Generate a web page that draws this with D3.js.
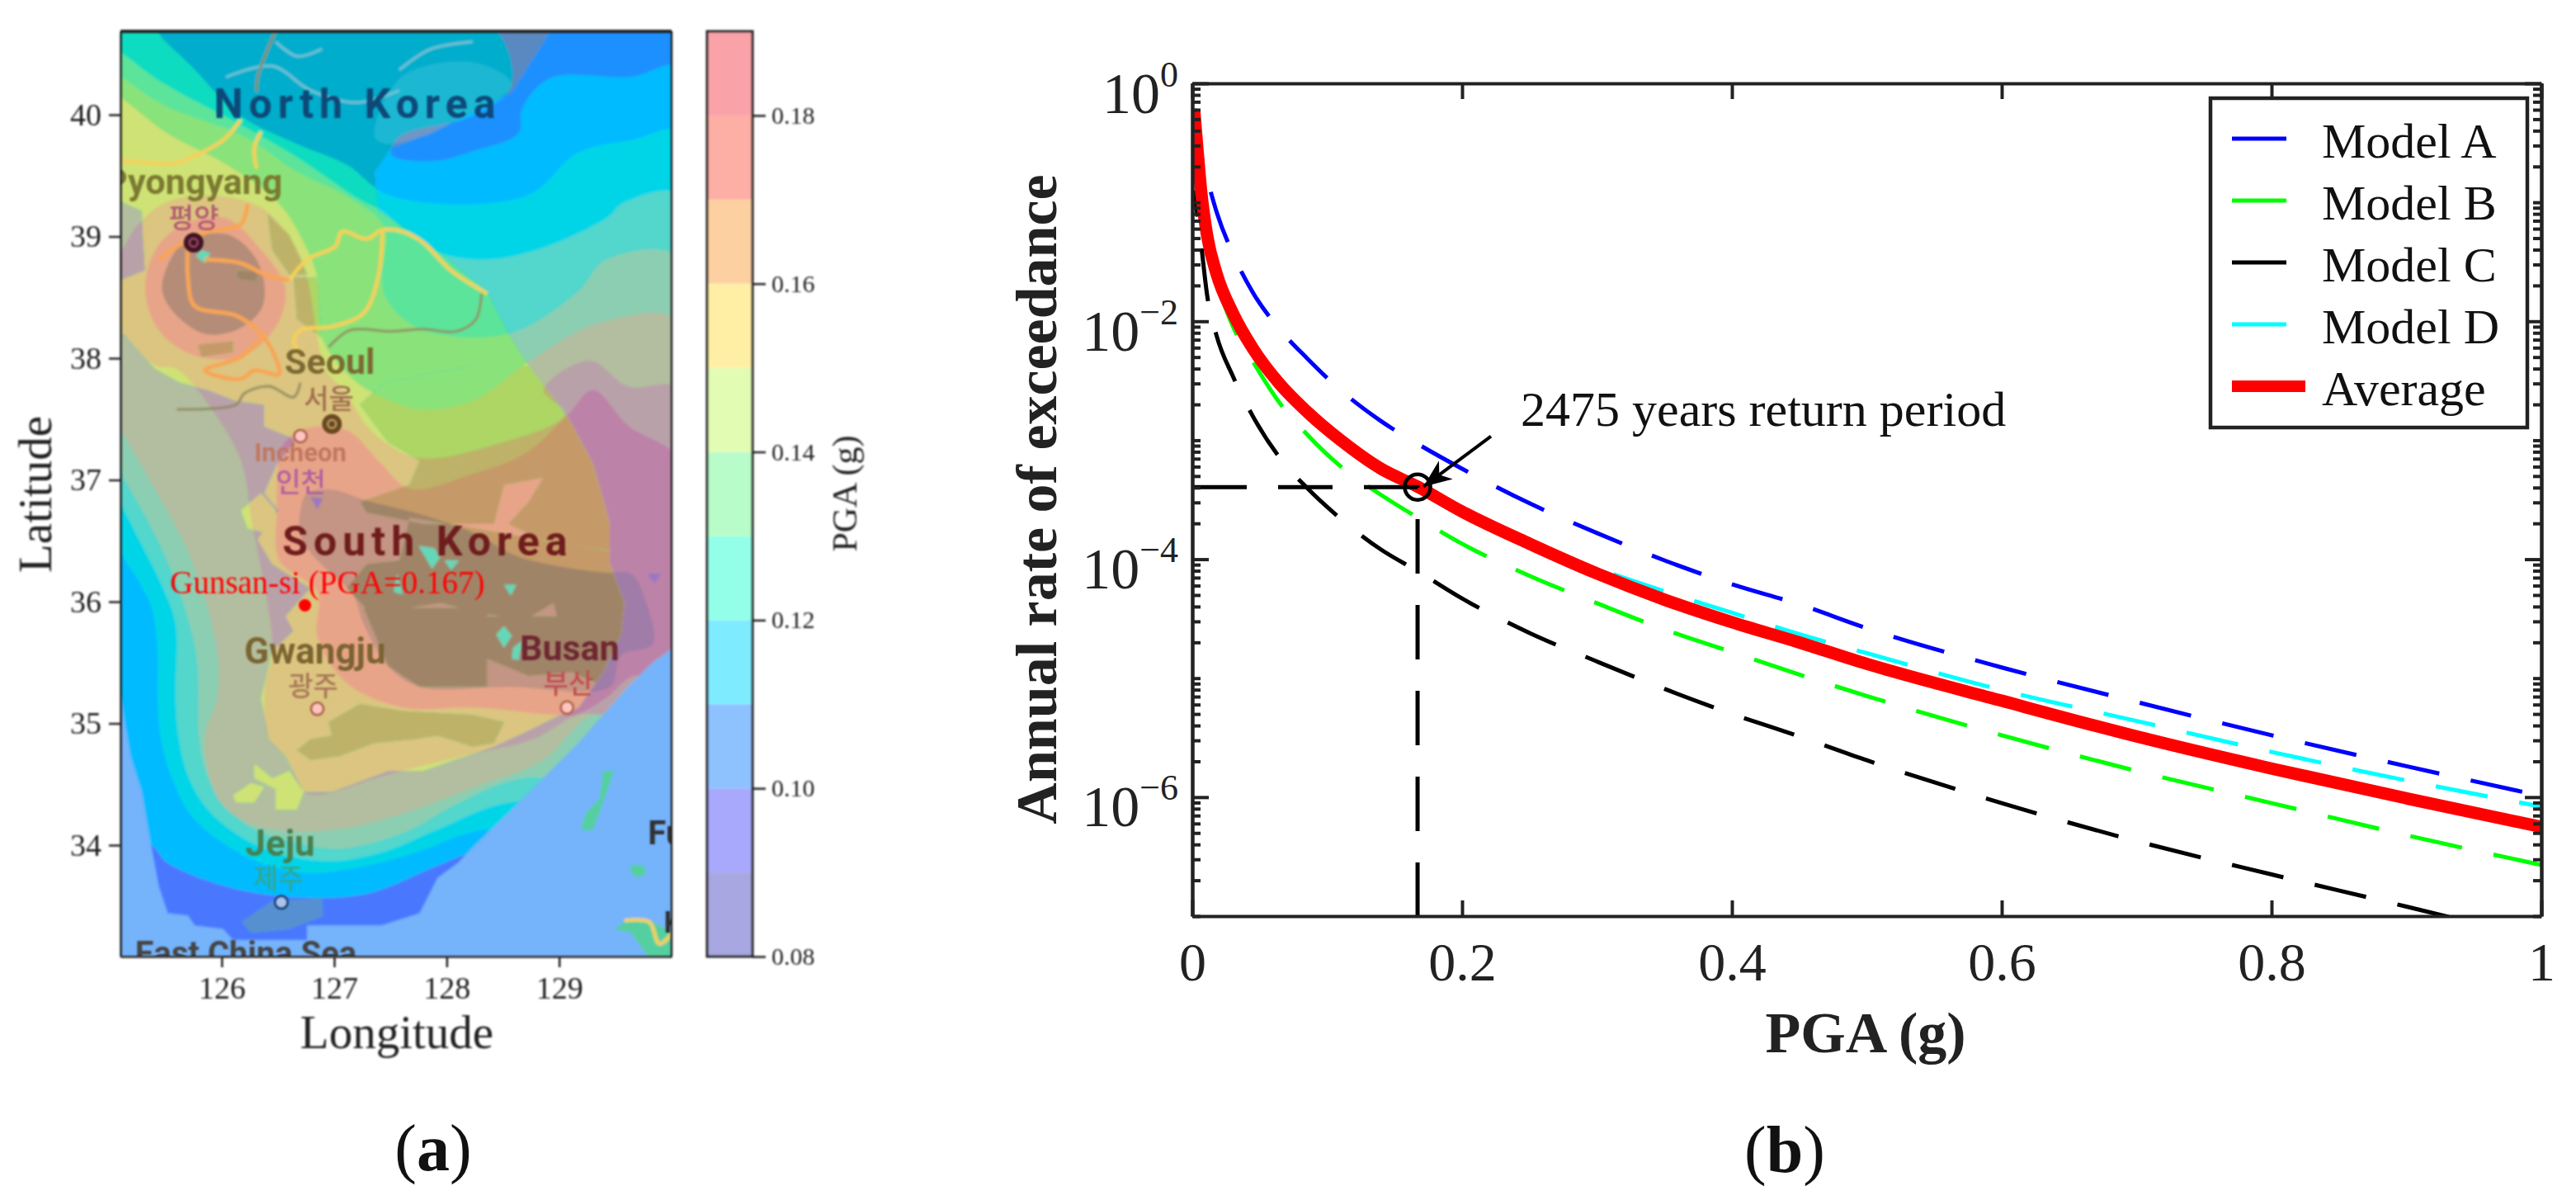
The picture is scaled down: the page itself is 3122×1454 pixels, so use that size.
<!DOCTYPE html>
<html>
<head>
<meta charset="utf-8">
<script src="https://cdn.jsdelivr.net/npm/d3@7/dist/d3.min.js"></script>
<style>
  body { margin: 0; background: #fff; }
  text { font-family: "Liberation Serif", serif; }
  .map-label { font-family: Roboto, sans-serif; font-weight: 700; }
  .map-hangul { font-family: "Noto Sans CJK KR", sans-serif; font-weight: 500; }
</style>
</head>
<body>
<svg id="fig" width="3122" height="1454"></svg>
<script>
// ---------- (b) hazard curves, values are log10 of the annual rate
const pgaGrid = [0.0015, 0.004, 0.0065, 0.011, 0.018, 0.03, 0.045, 0.065, 0.085, 0.11, 0.14, 0.167, 0.2, 0.25, 0.3, 0.35, 0.4, 0.45, 0.5, 0.6, 0.7, 0.8, 0.9, 1];
const modelA = [-0.15, -0.45, -0.6, -0.8, -1.08, -1.43, -1.76, -2.07, -2.31, -2.58, -2.84, -3.03, -3.24, -3.53, -3.78, -4.01, -4.21, -4.38, -4.58, -4.91, -5.2, -5.48, -5.74, -5.99];
const modelB = [-0.15, -0.62, -0.95, -1.33, -1.66, -2.04, -2.34, -2.69, -2.95, -3.22, -3.46, -3.65, -3.87, -4.14, -4.37, -4.59, -4.78, -4.97, -5.15, -5.48, -5.78, -6.05, -6.32, -6.57];
const modelC = [-0.9, -1.13, -1.35, -1.78, -2.12, -2.46, -2.8, -3.15, -3.4, -3.66, -3.92, -4.1, -4.33, -4.62, -4.86, -5.09, -5.3, -5.49, -5.69, -6.05, -6.37, -6.65, -6.92, -7.2];
const modelD = [-0.15, -0.6, -0.93, -1.3, -1.62, -2, -2.28, -2.57, -2.79, -3.03, -3.27, -3.42, -3.62, -3.88, -4.08, -4.27, -4.45, -4.63, -4.79, -5.1, -5.36, -5.62, -5.86, -6.08];
const average = [-0.24, -0.58, -0.9, -1.28, -1.6, -1.93, -2.23, -2.53, -2.76, -3, -3.24, -3.39, -3.6, -3.87, -4.12, -4.34, -4.53, -4.7, -4.88, -5.19, -5.49, -5.76, -6.01, -6.25];
// where one dash of each model starts, to line the dashes up with the picture
const dashStartPga = [0.641, 0.597, 0.589, 0.614];
const dashStartLog = [-5.035, -5.47, -5.99, -5.13];

const seriesNames = ["Model A", "Model B", "Model C", "Model D", "Average"];
const seriesColors = ["#0000ff", "#00ff00", "#000000", "#00ffff", "#ff0000"];
const pgaTicks = [0, 0.2, 0.4, 0.6, 0.8, 1];
const rateMajor = [1, 1e-2, 1e-4, 1e-6];
const refPga = 0.167;
const refRate = 4.04e-4;
const arrowPga = [0.2214, 0.1713];
const arrowRate = [1.08e-3, 4.07e-4];

// ---------- (a) contour bands in [lon, lat]
const lonTicks = [126, 127, 128, 129];
const latTicks = [34, 35, 36, 37, 38, 39, 40];
const pgaBarTicks = [0.08, 0.1, 0.12, 0.14, 0.16, 0.18];
const barLevels = [0.08, 0.09, 0.1, 0.11, 0.12, 0.13, 0.14, 0.15, 0.16, 0.17, 0.18, 0.19];
const barColors = ["#a8a7e1", "#a8a9fc", "#8ec2ff", "#7febff", "#94ffe9", "#b8fdc9", "#e2fcb3", "#feefa4", "#fdd0a2", "#fdaea5", "#f9a3a9"];

const dataExtent = [[125, 40.8], [130.1, 40.8], [130.1, 35.62], [130.01, 35.62], [129.83, 35.5], [129.61, 35.3], [129.17, 34.84], [128.64, 34.35], [128.23, 33.98], [128.11, 33.86], [127.92, 33.73], [127.76, 33.44], [127.42, 33.34], [126.76, 33.34], [126.76, 33.22], [126.1, 33.22], [126.01, 33.31], [125.76, 33.34], [125.7, 33.42], [125.52, 33.44], [125.44, 33.66], [125.37, 34], [125.29, 34.44], [125.19, 34.73], [125.1, 35.22], [125, 35.22]];
const bandNorth = [[128.33, 40.8], [130.1, 40.8], [130.1, 40.38], [129.64, 40.31], [128.92, 40.3], [128.67, 40.05], [128.64, 39.85], [128.23, 39.7], [127.89, 39.62], [127.51, 39.67], [127.58, 39.82], [128.23, 39.99], [128.58, 40.25]];
const bandDeep = [[125, 40.8], [128.33, 40.8], [128.58, 40.25], [128.23, 39.99], [127.58, 39.82], [127.51, 39.67], [127.89, 39.62], [128.23, 39.7], [128.64, 39.85], [128.67, 40.05], [128.92, 40.3], [129.64, 40.31], [130.1, 40.38], [130.1, 33.93], [128.23, 33.93], [127.92, 33.83], [127.29, 33.6], [126.67, 33.57], [126.04, 33.66], [125.51, 33.86], [125.37, 34], [125, 34]];
const bandCyan = [[125.43, 40.8], [125.43, 40.69], [125.73, 40.4], [126.17, 39.99], [126.67, 39.76], [127.11, 39.59], [127.51, 39.33], [128.7, 39.33], [129.17, 39.69], [129.64, 39.79], [130.1, 39.85], [130.1, 34.12], [128.3, 34.12], [127.76, 33.95], [127.29, 33.83], [126.79, 33.77], [126.42, 33.83], [126.04, 34], [125.74, 34.23], [125.57, 34.52], [125.46, 34.87], [125.43, 35.21], [125.43, 35.59], [125.38, 35.94], [125.26, 36.17], [125.1, 36.4], [125, 36.6], [125, 40.8]];
const bandTeal = [[125, 40.55], [125.1, 40.51], [125.44, 40.28], [126.2, 39.9], [126.67, 39.65], [127.23, 39.3], [127.42, 39.21], [127.86, 38.89], [128.33, 38.81], [128.8, 38.89], [129.42, 39.15], [129.58, 39.28], [130.1, 39.33], [130.1, 34.35], [128.55, 34.35], [127.92, 34.13], [127.45, 33.95], [126.98, 33.87], [126.51, 33.93], [126.17, 34.07], [125.88, 34.29], [125.71, 34.55], [125.62, 34.87], [125.59, 35.21], [125.59, 35.82], [125.48, 36.11], [125.26, 36.52], [125.1, 36.81], [125, 37]];
const bandSeaGreen = [[125, 40.35], [125.1, 40.31], [125.48, 40.08], [126.2, 39.82], [126.67, 39.53], [127.11, 39.33], [127.45, 39.07], [127.42, 38.66], [127.48, 38.46], [127.79, 38.23], [128.55, 38.2], [129.17, 38.55], [129.42, 38.81], [130.1, 38.81], [130.1, 34.55], [128.67, 34.55], [128.11, 34.35], [127.61, 34.1], [127.04, 33.97], [126.67, 34.02], [126.29, 34.13], [126.01, 34.35], [125.87, 34.58], [125.8, 34.87], [125.77, 35.59], [125.51, 36.35], [125.1, 37.06], [125, 37.2]];
const bandGrey = [[125, 40.18], [125.1, 40.14], [125.51, 39.85], [126.04, 39.59], [126.51, 39.27], [126.76, 38.89], [126.85, 38.66], [126.89, 38.17], [127.14, 37.85], [127.36, 37.71], [127.76, 37.58], [128.23, 37.65], [128.73, 37.97], [129.36, 38.29], [130.1, 38.29], [130.1, 35.07], [129.3, 35.07], [128.86, 34.7], [128.23, 34.47], [127.61, 34.26], [127.04, 34.13], [126.51, 34.12], [126.17, 34.21], [125.95, 34.41], [125.85, 34.87], [125.96, 35.21], [125.96, 35.59], [125.73, 36.35], [125.41, 36.92], [125.1, 37.42], [125, 37.6]];
const bandRose = [[130.1, 37.74], [129.61, 37.77], [129.27, 37.98], [128.86, 37.74], [129.05, 37.54], [128.39, 37.28], [127.76, 37.18], [127.45, 37.31], [127.26, 37.48], [127.11, 37.71], [126.92, 37.91], [126.85, 38.17], [126.76, 38.66], [126.64, 38.95], [126.35, 39.24], [125.88, 39.34], [125.48, 39.27], [125.23, 39.07], [125.1, 38.89], [125, 38.89], [125, 38.2], [125.1, 38.2], [125.41, 37.94], [125.6, 37.91], [125.88, 37.62], [126.17, 37.16], [126.27, 36.64], [126.4, 36.02], [126.45, 35.59], [126.38, 35.27], [126.42, 34.87], [126.57, 34.73], [126.73, 34.44], [126.85, 34.41], [127.48, 34.58], [128.23, 34.75], [128.77, 34.87], [129.17, 35.07], [129.39, 35.07], [130.1, 35.07]];
const bandMauve = [[130.1, 37.13], [129.61, 37.45], [129.3, 37.74], [129.08, 37.54], [128.7, 37.22], [128.23, 37.05], [127.67, 36.93], [127.42, 37.13], [127.11, 37.41], [126.73, 37.42], [126.54, 37.28], [126.49, 36.93], [126.49, 36.75], [126.51, 36.34], [126.85, 36.08], [126.85, 35.71], [127.11, 35.33], [127.61, 35.13], [128.23, 35.13], [128.95, 35.07], [129.14, 35.07], [129.42, 35.21], [129.67, 35.39], [130.1, 35.3]];
const ringMauve = [[125.32, 38.55], [125.41, 38.89], [125.66, 39.1], [126.04, 39.15], [126.35, 38.89], [126.56, 38.6], [126.54, 38.37], [126.38, 38.14], [126.13, 38], [125.73, 38.03], [125.44, 38.23]];
const bandViolet = [[126.7, 36.75], [126.76, 36.89], [126.98, 36.92], [127.29, 36.83], [127.76, 36.72], [128.23, 36.57], [128.64, 36.37], [129.39, 36.24], [129.64, 36.23], [129.77, 36], [129.83, 35.65], [129.55, 35.56], [129.45, 35.3], [128.55, 35.3], [127.76, 35.3], [127.48, 35.47], [127.26, 35.82], [127.17, 36.05], [126.82, 36.37], [126.7, 36.54]];
const ringViolet = [[125.48, 38.66], [125.66, 38.95], [126.04, 39.02], [126.29, 38.84], [126.38, 38.6], [126.35, 38.4], [126.13, 38.23], [125.85, 38.2], [125.6, 38.35], [125.48, 38.52]];

const bandsInOrder = [bandDeep, bandCyan, bandTeal, bandSeaGreen, bandGrey, bandRose, bandMauve, ringMauve, bandViolet, ringViolet];
const seaBand = ["#00bbff", "#00d5e8", "#53d6cc", "#8cceb2", "#b2be9f", "#b9a1a9", "#bd82a8", "#bd82a8", "#a07ba8", "#a07ba8"];
const landBand = ["#00adcc", "#10dcc0", "#5ce49a", "#8ae27a", "#cfe274", "#dcc580", "#e8a488", "#e8a488", "#c49484", "#b48c78"];
const forestBand = ["#00adcc", "#10dcc0", "#5ce49a", "#8ae27a", "#add665", "#bdb267", "#c69a68", "#c69a68", "#a08468", "#a08468"];

const landMain = [[125, 40.8], [128.92, 40.8], [128.92, 40.69], [128.8, 40.51], [128.58, 40.19], [128.23, 40.02], [127.86, 39.85], [127.51, 39.73], [127.36, 39.53], [127.39, 39.21], [127.79, 38.98], [128.36, 38.55], [128.55, 38.2], [128.73, 37.94], [129.08, 37.51], [129.3, 37.13], [129.45, 36.64], [129.45, 36.31], [129.58, 35.99], [129.55, 35.73], [129.39, 35.42], [129.17, 35.13], [128.98, 35.06], [128.7, 34.93], [128.42, 34.81], [127.79, 34.61], [127.48, 34.61], [126.98, 34.44], [126.73, 34.44], [126.57, 34.73], [126.42, 34.87], [126.35, 35.21], [126.45, 35.59], [126.64, 35.76], [126.57, 35.88], [126.79, 36.11], [126.45, 36.31], [126.32, 36.51], [126.51, 36.75], [126.38, 36.89], [126.49, 37.12], [126.67, 37.33], [126.38, 37.44], [126.38, 37.62], [126.13, 37.65], [125.88, 37.74], [125.63, 37.8], [125.41, 37.91], [125.13, 38.2], [125, 38.2], [125, 38.6], [125.32, 38.72], [125.29, 39.21], [125, 39.33]];
const islands = [
  [[126.1, 34.41], [126.26, 34.51], [126.38, 34.48], [126.29, 34.35], [126.13, 34.35]],
  [[126.29, 34.67], [126.45, 34.55], [126.6, 34.61], [126.73, 34.44], [126.67, 34.29], [126.48, 34.29], [126.48, 34.46], [126.29, 34.55]],
  [[126.17, 36.75], [126.35, 36.89], [126.48, 36.75], [126.49, 36.55], [126.23, 36.6]],
  [[129.39, 34.61], [129.49, 34.61], [129.39, 34.35], [129.3, 34.12], [129.19, 34.13], [129.24, 34.27], [129.36, 34.38]],
  [[129.63, 33.83], [129.74, 33.84], [129.78, 33.77], [129.7, 33.73], [129.64, 33.77]],
  [[126.18, 33.37], [126.45, 33.54], [126.89, 33.56], [126.9, 33.42], [126.6, 33.31], [126.26, 33.28]],
  [[129.49, 33.31], [129.61, 33.39], [129.83, 33.37], [130.02, 33.28], [130.02, 33.07], [129.8, 33.07], [129.64, 33.28]]
];
const forests = [
  [[127.23, 37.62], [127.48, 37.31], [127.76, 37.16], [127.67, 36.96], [127.23, 36.82], [127.29, 36.73], [127.79, 36.64], [128.42, 36.64], [128.51, 36.96], [128.86, 37.02], [128.73, 36.82], [128.55, 36.64], [128.86, 36.5], [129.55, 36.41], [129.55, 37.22], [128.86, 37.94], [128.23, 37.94], [127.45, 37.8]],
  [[127.67, 36.69], [129.55, 36.4], [129.64, 35.99], [129.42, 35.3], [129.11, 35.42], [128.73, 35.39], [128.36, 35.53], [128.36, 35.88], [128.98, 35.88], [128.95, 35.99], [128.7, 35.85], [128.26, 35.91], [127.95, 35.99], [127.61, 35.94], [127.29, 35.94], [127.11, 36.11], [127.29, 36.31], [127.58, 36.34]],
  [[127.26, 35.95], [128.36, 35.95], [128.36, 35.3], [127.76, 35.3], [127.48, 35.47]],
  [[126.95, 35.01], [127.23, 35.16], [127.61, 35.1], [128.23, 35.07], [128.51, 35.01], [128.42, 34.84], [128.23, 34.81], [127.92, 34.9], [127.7, 34.87], [127.36, 34.84], [127.04, 34.73], [126.79, 34.7], [126.67, 34.78], [126.79, 34.87], [126.98, 34.9]],
  [[126.41, 39.18], [126.6, 39.01], [126.76, 38.69], [126.6, 38.69], [126.45, 38.89]],
  [[126.64, 38.66], [126.85, 38.66], [126.89, 38.17], [126.67, 38.32]],
  [[126.13, 38.72], [126.32, 38.72], [126.31, 38.63], [126.15, 38.65]],
  [[125.79, 38.11], [126.1, 38.14], [126.1, 38.05], [125.82, 38.01]]
];
const paleCoast = [[127.6, 40.31], [128.23, 40.43], [128.58, 40.25], [128.23, 40.02], [127.86, 39.85], [127.48, 39.76], [127.36, 39.82]];
const tealPatches = [
  [[127.75, 36.46], [127.89, 36.44], [127.94, 36.36], [127.87, 36.27]],
  [[127.98, 36.34], [128.11, 36.34], [128.04, 36.26]],
  [[128.51, 36.14], [128.62, 36.14], [128.57, 36.05]],
  [[127.56, 36.23], [127.61, 36.06], [127.53, 36.08]],
  [[128.44, 35.73], [128.51, 35.8], [128.58, 35.72], [128.51, 35.62]],
  [[128.59, 35.62], [128.67, 35.68], [128.64, 35.52], [128.58, 35.53]],
  [[125.82, 38.89], [125.9, 38.86], [125.85, 38.78], [125.77, 38.84]]
];
const violetPatches = [
  [[129.78, 36.23], [129.91, 36.23], [129.85, 36.15]],
  [[126.79, 36.86], [126.9, 36.85], [126.85, 36.76]]
];
const yellowRoads = [
  [[126.6, 38.64], [126.76, 38.81], [127.01, 38.92], [127.07, 39.04], [127.29, 38.98], [127.42, 39.05], [127.61, 39.04], [127.79, 38.95], [128.04, 38.72], [128.36, 38.53]],
  [[127.43, 39.05], [127.39, 38.66], [127.26, 38.37], [126.98, 38.26], [126.7, 38.23], [126.64, 38.14], [126.7, 38.03]],
  [[125.1, 39.63], [125.57, 39.6], [125.73, 39.65], [126.01, 39.79], [126.17, 39.96]],
  [[126.35, 39.86], [126.29, 39.73], [126.31, 39.56]],
  [[129.58, 33.38], [129.8, 33.37], [129.89, 33.19], [130.01, 33.28]]
];
const orangeRoads = [
  [[125.7, 38.95], [125.7, 38.66], [125.76, 38.43], [126.13, 38.35], [126.35, 38.2], [126.48, 38], [126.51, 37.87], [126.29, 37.9], [126.17, 37.83], [125.85, 37.9], [126.17, 38.01], [126.38, 38.2]],
  [[125.85, 38.81], [126.17, 38.78], [126.38, 38.69], [126.6, 38.64]],
  [[125.44, 38.81], [125.66, 38.95], [125.88, 39.04], [126.17, 39.1], [126.23, 39.27]]
];
const borders = [
  [[125.6, 37.58], [126.13, 37.62], [126.2, 37.71], [126.42, 37.77], [126.64, 37.68], [126.7, 37.8]],
  [[126.95, 38.09], [127.14, 38.23], [127.51, 38.22], [127.79, 38.24], [128.08, 38.22], [128.26, 38.32], [128.31, 38.53]],
  [[126.48, 40.69], [126.32, 40.31], [126.31, 40.19]]
];
const paleRoads = [
  [[126.48, 40.6], [126.67, 40.48], [126.89, 40.54]],
  [[127.58, 40.37], [127.86, 40.54], [128.23, 40.6]],
  [[126.04, 40.31], [126.45, 40.4], [126.79, 40.2], [127.2, 40.1], [127.58, 40.2]]
];
const cityNames = ["Pyongyang", "Seoul", "Incheon", "Gwangju", "Busan", "Jeju"];
const cityLon = [125.75, 126.98, 126.7, 126.85, 129.07, 126.53];
const cityLat = [38.95, 37.46, 37.36, 35.12, 35.13, 33.53];
const gunsan = [126.74, 35.97];

const labelText = ["North Korea", "South Korea", "Pyongyang", "Seoul", "Incheon", "Gwangju", "Busan", "Jeju", "East China Sea", "Fu", "Ky"];
const labelLon = [125.93, 126.54, 126.54, 126.56, 126.29, 126.2, 128.65, 126.21, 125.23, 129.79, 129.93];
const labelLat = [39.97, 36.38, 39.35, 37.87, 37.15, 35.49, 35.52, 33.91, 33.02, 34.01, 33.28];
const labelColor = ["#0a4a78", "#6e1e1e", "#7a7a30", "#7c6a30", "#c07860", "#7a6430", "#6e2830", "#4a7f50", "#444444", "#333333", "#333333"];
const labelSize = [50, 50, 43, 43, 31, 44, 43, 44, 40, 40, 36];
const hangulText = ["평양", "서울", "인천", "광주", "부산", "제주"];
const hangulLon = [125.53, 126.73, 126.48, 126.59, 128.86, 126.28];
const hangulLat = [39.07, 37.59, 36.9, 35.23, 35.25, 33.65];
const hangulColor = ["#b05a70", "#a07050", "#b060a0", "#a87858", "#c05050", "#30a890"];

const svg = d3.select("#fig");
const defs = svg.append("defs");
const ink = "#222222";

// ---------- panel (a)
const lon = d3.scaleLinear().domain([125.1, 130]).range([146, 814]);
const lat = d3.scaleLinear().domain([33.085, 40.685]).range([1159, 38]);
const geoLine = d3.line().x(d => lon(d[0])).y(d => lat(d[1]));
const closed = pts => geoLine(pts) + "Z";
const smooth = d3.line().x(d => lon(d[0])).y(d => lat(d[1])).curve(d3.curveCatmullRomClosed.alpha(0.5));
const smoothOpen = d3.line().x(d => lon(d[0])).y(d => lat(d[1])).curve(d3.curveCatmullRom);

defs.append("clipPath").attr("id", "map-clip").append("rect")
  .attr("x", lon(125.1)).attr("y", lat(40.685))
  .attr("width", lon(130) - lon(125.1)).attr("height", lat(33.085) - lat(40.685));
defs.append("clipPath").attr("id", "extent-clip").append("path").attr("d", closed(dataExtent));
defs.append("clipPath").attr("id", "land-clip").append("path")
  .attr("d", [landMain, ...islands].map(closed).join(""));
defs.append("clipPath").attr("id", "forest-clip").append("path").attr("d", forests.map(closed).join(""));
defs.append("filter").attr("id", "soft").attr("x", "-5%").attr("y", "-5%").attr("width", "110%").attr("height", "110%")
  .append("feGaussianBlur").attr("stdDeviation", 1.6);
defs.append("filter").attr("id", "softer").attr("x", "-20%").attr("y", "-20%").attr("width", "140%").attr("height", "140%")
  .append("feGaussianBlur").attr("stdDeviation", 0.9);

const mapOuter = svg.append("g").attr("clip-path", "url(#map-clip)");
const map = mapOuter.append("g").attr("filter", "url(#soft)");

function drawBands(parent, southColor, northColor, colors) {
  parent.append("path").attr("d", closed(dataExtent)).attr("fill", southColor);
  parent.append("path").attr("d", smooth(bandNorth)).attr("fill", northColor);
  parent.selectAll("path.band")
    .data(bandsInOrder)
    .enter()
    .append("path")
    .attr("class", "band")
    .attr("d", smooth)
    .attr("fill", (d, i) => colors[i]);
}

map.append("rect").attr("x", 100).attr("y", 0).attr("width", 800).attr("height", 1200).attr("fill", "#74b3fb");
drawBands(map.append("g").attr("clip-path", "url(#extent-clip)"), "#4878ff", "#1f90ff", seaBand);

const landG = map.append("g").attr("clip-path", "url(#land-clip)");
landG.append("rect").attr("x", 100).attr("y", 0).attr("width", 800).attr("height", 1200).attr("fill", "#55cfa0");
drawBands(landG.append("g").attr("clip-path", "url(#extent-clip)"), "#5690d0", "#5a88c0", landBand);
drawBands(landG.append("g").attr("clip-path", "url(#forest-clip)").append("g").attr("clip-path", "url(#extent-clip)"), "#5690d0", "#5a88c0", forestBand);
landG.append("path").attr("d", smooth(paleCoast)).attr("fill", "#ffffff").attr("opacity", 0.12);

map.selectAll("path.teal").data(tealPatches).enter().append("path").attr("class", "teal")
  .attr("d", closed).attr("fill", "#64d8b8");
map.selectAll("path.violet").data(violetPatches).enter().append("path").attr("class", "violet")
  .attr("d", closed).attr("fill", "#9a78c0");

const strokeLines = (rows, color, width) => {
  map.append("g").selectAll("path").data(rows).enter().append("path")
    .attr("d", smoothOpen)
    .attr("fill", "none").attr("stroke", color).attr("stroke-width", width);
};
strokeLines(paleRoads, "#7cc6d8", 2.5);
strokeLines(borders, "#8e8a60", 3);
strokeLines(yellowRoads, "#f6d058", 4.5);
strokeLines(orangeRoads, "#f8a552", 5);

// city dots
const labelsG = mapOuter.append("g").attr("filter", "url(#softer)");
cityNames.forEach((name, i) => {
  const big = name === "Pyongyang" || name === "Seoul";
  const fill = name === "Pyongyang" ? "#401828" : name === "Seoul" ? "#6a4a20" : name === "Jeju" ? "#a8c4f4" : "#ffc4c0";
  const edge = name === "Pyongyang" ? "#401828" : name === "Seoul" ? "#6a4a20" : name === "Jeju" ? "#1a3f70" : "#b06a50";
  labelsG.append("circle").attr("cx", lon(cityLon[i])).attr("cy", lat(cityLat[i]))
    .attr("r", big ? 11 : 7.5).attr("fill", fill).attr("stroke", edge).attr("stroke-width", big ? 2 : 3);
  if (big) {
    labelsG.append("circle").attr("cx", lon(cityLon[i])).attr("cy", lat(cityLat[i]))
      .attr("r", 5).attr("fill", "none").attr("stroke", name === "Pyongyang" ? "#a04a60" : "#c0a060").attr("stroke-width", 2);
  }
});
labelsG.append("circle").attr("cx", lon(gunsan[0])).attr("cy", lat(gunsan[1])).attr("r", 7.5).attr("fill", "#ff0000");

labelText.forEach((t, i) => {
  labelsG.append("text").attr("class", "map-label")
    .attr("x", lon(labelLon[i])).attr("y", lat(labelLat[i]))
    .attr("text-anchor", t === "Pyongyang" ? "end" : "start")
    .attr("font-size", labelSize[i])
    .attr("letter-spacing", i < 2 ? 7 : 0)
    .attr("fill", labelColor[i])
    .text(t);
});
hangulText.forEach((t, i) => {
  labelsG.append("text").attr("class", "map-hangul")
    .attr("x", lon(hangulLon[i])).attr("y", lat(hangulLat[i]))
    .attr("font-size", 33)
    .attr("fill", hangulColor[i])
    .text(t);
});
labelsG.append("text").attr("x", lon(125.54)).attr("y", lat(36.07))
  .attr("font-size", 39).attr("fill", "#ff0000").text("Gunsan-si (PGA=0.167)");

// axes of the map
const styleAxis = (g, width, size) => {
  g.selectAll("path.domain").attr("stroke", ink).attr("stroke-width", width);
  g.selectAll(".tick line").attr("stroke", ink).attr("stroke-width", width);
  g.selectAll(".tick text").attr("fill", ink).attr("font-size", size).attr("font-family", "Liberation Serif");
};
const frameA = svg.append("g").attr("filter", "url(#softer)");
const lonAxis = frameA.append("g").attr("transform", "translate(0,1159)")
  .call(d3.axisBottom(lon).tickValues(lonTicks).tickSize(13).tickSizeOuter(0).tickPadding(11).tickFormat(d3.format("d")));
styleAxis(lonAxis, 2.5, 38);
const latAxis = frameA.append("g").attr("transform", "translate(146,0)")
  .call(d3.axisLeft(lat).tickValues(latTicks).tickSize(14).tickSizeOuter(0).tickPadding(9).tickFormat(d3.format("d")));
styleAxis(latAxis, 2.5, 38);
frameA.append("line").attr("x1", lon(125.1)).attr("x2", lon(130)).attr("y1", lat(40.685)).attr("y2", lat(40.685))
  .attr("stroke", ink).attr("stroke-width", 4);
frameA.append("line").attr("x1", lon(130)).attr("x2", lon(130)).attr("y1", lat(40.685)).attr("y2", lat(33.085))
  .attr("stroke", ink).attr("stroke-width", 2.5);

frameA.append("text").attr("x", 481).attr("y", 1270).attr("text-anchor", "middle").attr("font-size", 57).attr("fill", ink).text("Longitude");
frameA.append("text").attr("transform", "translate(62,599) rotate(-90)").attr("text-anchor", "middle").attr("font-size", 57).attr("fill", ink).text("Latitude");

// colour bar
const bar = d3.scaleLinear().domain([0.08, 0.19]).range([1159, 38]);
frameA.append("g").selectAll("rect")
  .data(barColors)
  .enter()
  .append("rect")
  .attr("x", 857)
  .attr("width", 55)
  .attr("y", (d, i) => bar(barLevels[i + 1]))
  .attr("height", (d, i) => bar(barLevels[i]) - bar(barLevels[i + 1]))
  .attr("fill", d => d);
frameA.append("rect").attr("x", 857).attr("y", 38).attr("width", 55).attr("height", 1121)
  .attr("fill", "none").attr("stroke", ink).attr("stroke-width", 3);
const barAxis = frameA.append("g").attr("transform", "translate(912,0)")
  .call(d3.axisRight(bar).tickValues(pgaBarTicks).tickSize(16).tickSizeOuter(0).tickPadding(7).tickFormat(d3.format(".2f")));
styleAxis(barAxis, 2.5, 30);
barAxis.select("path.domain").remove();
frameA.append("text").attr("transform", "translate(1038,598) rotate(-90)").attr("text-anchor", "middle").attr("font-size", 42).attr("fill", ink).text("PGA (g)");

svg.append("text").attr("x", 525).attr("y", 1418).attr("text-anchor", "middle").attr("font-size", 80).attr("fill", "#111")
  .html('(<tspan font-weight="700">a</tspan>)');

// ---------- panel (b)
const x = d3.scaleLinear().domain([0, 1]).range([1445, 3080]);
const y = d3.scaleLog().domain([1e-7, 1]).range([1110, 101]);
const minorRates = d3.range(-7, 0).flatMap(k => d3.range(1, 10).map(m => m * Math.pow(10, k)))
  .filter(v => v >= 1e-7 && !rateMajor.some(r => Math.abs(r - v) < r * 1e-6));

defs.append("clipPath").attr("id", "plot-clip").append("rect")
  .attr("x", x(0)).attr("y", y(1)).attr("width", x(1) - x(0)).attr("height", y(1e-7) - y(1));

const plot = svg.append("g").attr("clip-path", "url(#plot-clip)");
const curve = d3.line().x((d, i) => x(pgaGrid[i])).y(d => y(Math.pow(10, d))).curve(d3.curveMonotoneX);
const dashPeriod = 103;
[modelA, modelB, modelC, modelD].forEach((rows, i) => {
  const path = plot.append("path").attr("d", curve(rows)).attr("fill", "none")
    .attr("stroke", seriesColors[i]).attr("stroke-width", 5)
    .attr("stroke-dasharray", "64 39");
  // slide the dash pattern so one dash begins where it does in the picture
  const node = path.node();
  const px = x(dashStartPga[i]);
  const py = y(Math.pow(10, dashStartLog[i]));
  let best = 0;
  let bestDist = Infinity;
  for (let len = 0; len < node.getTotalLength(); len += 1) {
    const p = node.getPointAtLength(len);
    const dist = (p.x - px) * (p.x - px) + (p.y - py) * (p.y - py);
    if (dist < bestDist) {
      bestDist = dist;
      best = len;
    }
  }
  path.attr("stroke-dashoffset", dashPeriod - (best % dashPeriod));
});
plot.append("path").attr("d", curve(average)).attr("fill", "none")
  .attr("stroke", seriesColors[4]).attr("stroke-width", 15);

const refLine = d3.line().x(d => x(d[0])).y(d => y(d[1]));
svg.append("path").attr("d", refLine([[0, refRate], [refPga, refRate], [refPga, 1e-7]]))
  .attr("fill", "none").attr("stroke", "#000").attr("stroke-width", 5).attr("stroke-dasharray", "66 38");
svg.append("circle").attr("cx", x(refPga)).attr("cy", y(refRate)).attr("r", 15.5)
  .attr("fill", "none").attr("stroke", "#000").attr("stroke-width", 4.5);

defs.append("marker").attr("id", "head").attr("markerUnits", "userSpaceOnUse")
  .attr("markerWidth", 50).attr("markerHeight", 40).attr("refX", 40).attr("refY", 20).attr("orient", "auto")
  .append("path").attr("d", "M40,20 L6,6 L16,20 L6,34 Z").attr("fill", "#000");
svg.append("path")
  .attr("d", refLine([[arrowPga[0], arrowRate[0]], [arrowPga[1], arrowRate[1]]]))
  .attr("stroke", "#000").attr("stroke-width", 4).attr("marker-end", "url(#head)");
svg.append("text").attr("x", 1843).attr("y", 516).attr("font-size", 60).attr("fill", "#111").text("2475 years return period");

// frame and ticks
const axisB = svg.append("g").attr("transform", "translate(0,1110)")
  .call(d3.axisBottom(x).tickValues(pgaTicks).tickSize(-19).tickSizeOuter(0).tickPadding(31).tickFormat(d => String(d)));
styleAxis(axisB, 4, 66);
const axisT = svg.append("g").attr("transform", "translate(0,101)")
  .call(d3.axisTop(x).tickValues(pgaTicks).tickSize(-19).tickSizeOuter(0).tickFormat(""));
styleAxis(axisT, 4, 66);

const axisL = svg.append("g").attr("transform", "translate(1445,0)")
  .call(d3.axisLeft(y).tickValues(rateMajor).tickSize(-20).tickSizeOuter(0).tickPadding(17).tickFormat(""));
styleAxis(axisL, 4, 70);
axisL.selectAll(".tick text").attr("dy", 35).each(function(d) {
  const t = d3.select(this);
  t.append("tspan").text("10");
  t.append("tspan").attr("dy", -32).attr("font-size", 44)
    .text(d === 1 ? "0" : "\u2212" + Math.round(-Math.log10(d)));
});
const axisLm = svg.append("g").attr("transform", "translate(1445,0)")
  .call(d3.axisLeft(y).tickValues(minorRates).tickSize(-10).tickSizeOuter(0).tickFormat(""));
styleAxis(axisLm, 4, 10);
const axisR = svg.append("g").attr("transform", "translate(3080,0)")
  .call(d3.axisRight(y).tickValues(rateMajor).tickSize(-20).tickSizeOuter(0).tickFormat(""));
styleAxis(axisR, 4, 10);
const axisRm = svg.append("g").attr("transform", "translate(3080,0)")
  .call(d3.axisRight(y).tickValues(minorRates).tickSize(-10).tickSizeOuter(0).tickFormat(""));
styleAxis(axisRm, 4, 10);

svg.append("text").attr("x", 2261).attr("y", 1275).attr("text-anchor", "middle")
  .attr("font-size", 70).attr("font-weight", 700).attr("fill", ink).text("PGA (g)");
svg.append("text").attr("transform", "translate(1280,605) rotate(-90)").attr("text-anchor", "middle")
  .attr("font-size", 70).attr("font-weight", 700).attr("fill", ink).text("Annual rate of exceedance");

// legend
const legend = svg.append("g");
legend.append("rect").attr("x", 2679).attr("y", 119).attr("width", 384).attr("height", 399)
  .attr("fill", "#fff").attr("stroke", ink).attr("stroke-width", 4.5);
seriesNames.forEach((name, i) => {
  const last = i === 4;
  const rowY = d3.scaleLinear().domain([0, 1]).range([168, 243])(i);
  legend.append("line").attr("x1", 2705).attr("x2", last ? 2794 : 2771)
    .attr("y1", last ? 468 : rowY).attr("y2", last ? 468 : rowY)
    .attr("stroke", seriesColors[i]).attr("stroke-width", last ? 14 : 5);
  legend.append("text").attr("x", 2814).attr("y", rowY + 23).attr("font-size", 60).attr("fill", "#111").text(name);
});

svg.append("text").attr("x", 2163).attr("y", 1420).attr("text-anchor", "middle").attr("font-size", 80).attr("fill", "#111")
  .html('(<tspan font-weight="700">b</tspan>)');
</script>
</body>
</html>
